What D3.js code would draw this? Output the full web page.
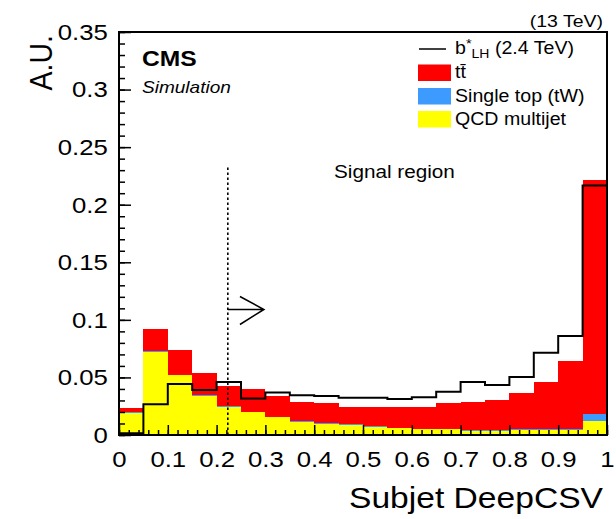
<!DOCTYPE html>
<html>
<head>
<meta charset="utf-8">
<script src="https://cdn.jsdelivr.net/npm/d3@7/dist/d3.min.js"></script>
<style>
  html, body { margin: 0; padding: 0; background: #fff; }
  svg { display: block; font-family: 'Liberation Sans', Arial, Helvetica, sans-serif; }
</style>
</head>
<body>
<svg class="js-graph"></svg>
<script>
/* <DATASET> */
// lower edge of each bin, bin width 0.05
var binLow = [0, 0.05, 0.1, 0.15, 0.2, 0.25, 0.3, 0.35, 0.4, 0.45,
  0.5, 0.55, 0.6, 0.65, 0.7, 0.75, 0.8, 0.85, 0.9, 0.95];
var binWidth = 0.05;

// stacked backgrounds (bottom to top)
var qcd = [0.0194, 0.0724, 0.0521, 0.0341, 0.0246, 0.0197, 0.0154, 0.0116, 0.0096, 0.0087,
  0.0072, 0.0058, 0.0049, 0.0049, 0.0037, 0.0037, 0.0043, 0.0043, 0.0040, 0.0125];
var singleTop = [0.0002, 0.0003, 0.0003, 0.0003, 0.0003, 0.0004, 0.0004, 0.0005, 0.0005, 0.0005,
  0.0006, 0.0006, 0.0006, 0.0007, 0.0007, 0.0008, 0.0008, 0.0009, 0.0010, 0.0055];
var ttbar = [0.0036, 0.0191, 0.0214, 0.0192, 0.0179, 0.0196, 0.0177, 0.0168, 0.0179, 0.0154,
  0.0165, 0.0182, 0.0191, 0.0219, 0.0245, 0.0259, 0.0317, 0.0411, 0.0595, 0.2035];

// b* signal, drawn as a line
var signal = [0.0015, 0.0266, 0.0443, 0.0391, 0.0460, 0.0316, 0.0370, 0.0345, 0.0339, 0.0324,
  0.0324, 0.0313, 0.0327, 0.0376, 0.0460, 0.0434, 0.0503, 0.0715, 0.0860, 0.2166];

var xTicks = [0, 0.1, 0.2, 0.3, 0.4, 0.5, 0.6, 0.7, 0.8, 0.9, 1];
var xTickLabels = ['0', '0.1', '0.2', '0.3', '0.4', '0.5', '0.6', '0.7', '0.8', '0.9', '1'];
var yTicks = [0, 0.05, 0.1, 0.15, 0.2, 0.25, 0.3, 0.35];
var yTickLabels = ['0', '0.05', '0.1', '0.15', '0.2', '0.25', '0.3', '0.35'];

var legendLabels = ['tt\u0304', 'Single top (tW)', 'QCD multijet'];
var cutValue = 0.223;
/* </DATASET> */

(function drawChart(d3) {
  var W = 616, H = 519;
  var frame = { left: 119, right: 607, top: 32, bottom: 435 };
  var STRETCH = 1.12; // the figure is a bit wider than tall

  var svg = d3.select('.js-graph').attr('width', W).attr('height', H);

  var x = d3.scaleLinear().domain([0, 1]).range([frame.left, frame.right]);
  var y = d3.scaleLinear().domain([0, 0.35]).range([frame.bottom, frame.top]);

  // stretched text helper
  function label(parent, px, py, size, txt, anchor) {
    return parent.append('text')
      .attr('transform', 'translate(' + px + ',' + py + ') scale(' + STRETCH + ',1)')
      .attr('font-size', size)
      .attr('text-anchor', anchor || 'start')
      .attr('fill', '#000')
      .text(txt);
  }

  /* <STACK> */
  var rows = binLow.map(function (lo, i) {
    return { lo: lo, qcd: qcd[i], singleTop: singleTop[i], ttbar: ttbar[i] };
  });
  var colors = { qcd: '#ffff00', singleTop: '#3d9bff', ttbar: '#ff0000' };
  var series = d3.stack().keys(['qcd', 'singleTop', 'ttbar'])(rows);

  svg.append('g').selectAll('g')
    .data(series)
    .join('g')
    .attr('fill', function (s) { return colors[s.key]; })
    .selectAll('rect')
    .data(function (s) { return s; })
    .join('rect')
    .attr('shape-rendering', 'crispEdges')
    .attr('x', function (d) { return x(d.data.lo); })
    .attr('width', function (d) { return x(d.data.lo + binWidth) - x(d.data.lo); })
    .attr('y', function (d) { return y(d[1]); })
    .attr('height', function (d) { return y(d[0]) - y(d[1]); });
  /* </STACK> */

  /* <SIGNAL LINE> */
  var steps = [];
  binLow.forEach(function (lo, i) {
    steps.push([lo, signal[i]]);
    steps.push([lo + binWidth, signal[i]]);
  });
  svg.append('path')
    .attr('d', d3.line().x(function (p) { return x(p[0]); }).y(function (p) { return y(p[1]); })(steps))
    .attr('fill', 'none')
    .attr('stroke', '#000')
    .attr('stroke-width', 2);
  /* </SIGNAL LINE> */

  /* <AXES> */
  function styleAxis(g) {
    g.select('.domain').remove();
    g.selectAll('line').attr('stroke', '#000').attr('stroke-width', 1.5);
    g.attr('font-family', null).attr('font-size', 23);
  }

  svg.append('g')
    .attr('transform', 'translate(0,' + frame.bottom + ')')
    .call(d3.axisBottom(x).tickValues(x.ticks(50)).tickSize(-5).tickFormat(''))
    .call(styleAxis);
  svg.append('g')
    .attr('transform', 'translate(0,' + frame.bottom + ')')
    .call(d3.axisBottom(x).tickValues(xTicks).tickSize(-10).tickPadding(16)
      .tickFormat(function (d, i) { return xTickLabels[i]; }))
    .call(styleAxis)
    .selectAll('text').attr('fill', '#000').attr('transform', 'scale(' + STRETCH + ',1)');

  svg.append('g')
    .attr('transform', 'translate(' + frame.left + ',0)')
    .call(d3.axisLeft(y).tickValues(y.ticks(35)).tickSize(-6).tickFormat(''))
    .call(styleAxis);
  svg.append('g')
    .attr('transform', 'translate(' + frame.left + ',0)')
    .call(d3.axisLeft(y).tickValues(yTicks).tickSize(-12).tickPadding(10)
      .tickFormat(function (d, i) { return yTickLabels[i]; }))
    .call(styleAxis)
    .selectAll('text').attr('fill', '#000').attr('transform', 'scale(' + STRETCH + ',1)');

  svg.append('rect')
    .attr('x', frame.left).attr('y', frame.top)
    .attr('width', frame.right - frame.left).attr('height', frame.bottom - frame.top)
    .attr('fill', 'none').attr('stroke', '#000').attr('stroke-width', 2);

  label(svg, 603, 508, 30, 'Subjet DeepCSV', 'end');
  svg.append('text')
    .attr('transform', 'translate(52,35) scale(' + STRETCH + ',1) rotate(-90)')
    .attr('font-size', 28.5)
    .attr('text-anchor', 'end')
    .text('A.U.');
  /* </AXES> */

  /* <ANNOTATIONS> */
  label(svg, 142, 66, 22, 'CMS').attr('font-weight', 'bold');
  label(svg, 142, 93, 17, 'Simulation').attr('font-style', 'italic');
  label(svg, 603, 27, 17.4, '(13 TeV)', 'end');
  label(svg, 334, 178, 18.5, 'Signal region');

  svg.append('line')
    .attr('x1', x(cutValue)).attr('x2', x(cutValue))
    .attr('y1', y(0)).attr('y2', y(0.2345))
    .attr('stroke', '#000').attr('stroke-width', 1.6)
    .attr('stroke-dasharray', '2.5,2.5');

  var ay = y(0.109);
  var ax0 = x(cutValue), ax1 = x(cutValue + 0.074);
  svg.append('path')
    .attr('d', 'M' + ax0 + ',' + ay + 'H' + ax1 +
      'M' + (ax1 - 24) + ',' + (ay - 13) + 'L' + ax1 + ',' + ay + 'L' + (ax1 - 24) + ',' + (ay + 15))
    .attr('fill', 'none').attr('stroke', '#000').attr('stroke-width', 1.5);
  /* </ANNOTATIONS> */

  /* <LEGEND> */
  var lg = svg.append('g');
  var boxX = 418, boxW = 33, textX = 455;
  var base = [54, 78, 101.5, 124.5];

  lg.append('line')
    .attr('x1', boxX + 1).attr('x2', boxX + 28)
    .attr('y1', base[0] - 5).attr('y2', base[0] - 5)
    .attr('stroke', '#000').attr('stroke-width', 1.5);
  var sigText = label(lg, textX, base[0], 17.5, '');
  sigText.append('tspan').text('b');
  sigText.append('tspan').attr('dy', -6).attr('font-size', 13).text('*');
  sigText.append('tspan').attr('dy', 10).attr('font-size', 12.5).text('LH');
  sigText.append('tspan').attr('dy', -4).text(' (2.4 TeV)');

  var boxColors = ['#ff0000', '#3d9bff', '#ffff00'];
  legendLabels.forEach(function (txt, i) {
    lg.append('rect')
      .attr('x', boxX).attr('y', base[i + 1] - 13.5)
      .attr('width', boxW).attr('height', 16.5)
      .attr('fill', boxColors[i]);
    label(lg, textX, base[i + 1], 17.5, txt);
  });
  /* </LEGEND> */
}(d3));
</script>
</body>
</html>
